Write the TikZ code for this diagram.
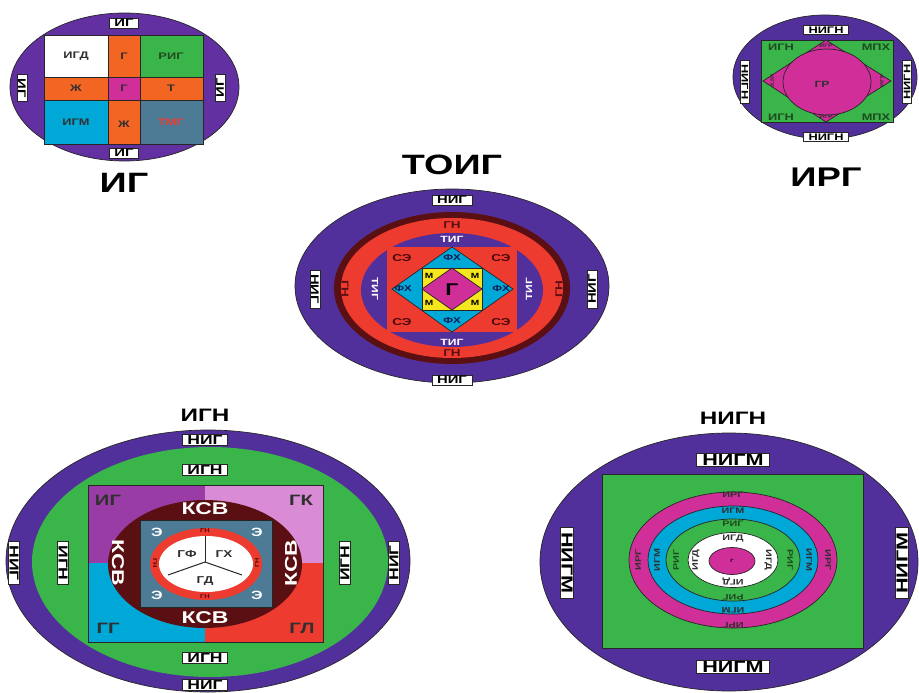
\documentclass[tikz,border=0pt]{standalone}
\usepackage{fontspec}
\setmainfont{Liberation Sans}[FakeStretch=1.35]
\usetikzlibrary{shapes.geometric}
\definecolor{pur}{HTML}{52309C}
\definecolor{purA}{HTML}{6230A0}
\definecolor{mag}{HTML}{D02E98}
\definecolor{grn}{HTML}{3AB54A}
\definecolor{cya}{HTML}{00A8D8}
\definecolor{org}{HTML}{F26522}
\definecolor{redA}{HTML}{EE3B2F}
\definecolor{stl}{HTML}{4D7A95}
\definecolor{mar}{HTML}{5A0F12}
\definecolor{pnk}{HTML}{D98CD5}
\definecolor{vio}{HTML}{9A3CA5}
\definecolor{yel}{HTML}{F5E61E}
\definecolor{edge}{HTML}{262626}
\definecolor{dk}{HTML}{303030}
\definecolor{dkg}{HTML}{1F4A22}
\definecolor{dkr}{HTML}{4A0A0A}
\definecolor{dkb}{HTML}{151A50}
\tikzset{
  ol/.style={draw=edge, line width=0.7pt},
  tx/.style={inner sep=0pt, font=\bfseries\fontsize{#1}{#1}\selectfont},
  lb/.style={fill=white, draw=edge, line width=0.5pt, inner xsep=3pt, inner ysep=1.2pt, text=black, font=\bfseries\fontsize{#1}{#1}\selectfont},
}
\begin{document}
\begin{tikzpicture}[x=1pt,y=-1pt]
\useasboundingbox (0,0) rectangle (919,693);
\fill[white] (0,0) rectangle (919,693);

% ================= top-left: IG =================
\path[ol, fill=purA] (124.5,87) ellipse [x radius=114.5pt, y radius=74pt];
\path[ol, fill=white] (44,35) rectangle (108,77);
\path[ol, fill=org] (108,35) rectangle (140,77);
\path[ol, fill=grn] (140,35) rectangle (203,77);
\path[ol, fill=org] (44,77) rectangle (108,100);
\path[ol, fill=mag] (108,77) rectangle (140,100);
\path[ol, fill=org] (140,77) rectangle (203,100);
\path[ol, fill=cya] (44,100) rectangle (108,144);
\path[ol, fill=org] (108,100) rectangle (140,144);
\path[ol, fill=stl] (140,100) rectangle (203,144);
\node[tx=9.5, text=dk] (a1) at (76,56) {ИГД};
\node[tx=9.5, text=dk] (a2) at (124,56) {Г};
\node[tx=9.5, text=dkg] (a3) at (171,56) {РИГ};
\node[tx=9.5, text=dk] (a4) at (76,88) {Ж};
\node[tx=9.5, text=dk] (a5) at (124,88) {Г};
\node[tx=9.5, text=dk] (a6) at (171,88) {Т};
\node[tx=9.5, text=dk] (a7) at (76,122) {ИГМ};
\node[tx=9.5, text=dk] (a8) at (124,124) {Ж};
\node[tx=9.5, text=redA] (a9) at (171,122) {ТМГ};
\node[lb=11, inner xsep=5pt] (aT) at (124,23) {ИГ};
\node[lb=11, inner xsep=5pt] (aB) at (124,153) {ИГ};
\node[lb=11, inner xsep=4pt, rotate=-90] (aL) at (22,88) {ИГ};
\node[lb=11, inner xsep=4pt, rotate=90] (aR) at (220,88) {ИГ};
\node[tx=28] (aTitle) at (124,183) {ИГ};

% ================= top-right: IRG =================
\path[ol, fill=pur] (825,77) ellipse [x radius=92pt, y radius=62pt];
\path[ol, fill=grn] (761,40) rectangle (893,122);
\path[ol, fill=mag] (826,40) -- (891,81) -- (826,122) -- (763,81) -- cycle;
\path[ol, fill=mag] (827,82) ellipse [x radius=44pt, y radius=33pt];
\node[tx=5, text=dk] (b1) at (826,46) {ИГР};
\node[tx=5, text=dk] (b2) at (826,117) {ИГР};
\node[tx=5, text=dk, rotate=-90] (b3) at (772,81) {ИГР};
\node[tx=5, text=dk, rotate=90] (b4) at (882,81) {ИГР};
\node[tx=9.5, text=dkg] (b5) at (781,47) {ИГН};
\node[tx=9.5, text=dkg] (b6) at (876,47) {МПХ};
\node[tx=9.5, text=dkg] (b7) at (781,117) {ИГН};
\node[tx=9.5, text=dkg] (b8) at (876,117) {МПХ};
\node[tx=9, text=dk] (b9) at (822,84) {ГР};
\node[lb=9.5, inner xsep=5pt] (bT) at (826,30) {НИГН};
\node[lb=9.5, inner xsep=5pt] (bB) at (826,137) {НИГН};
\node[lb=9.5, inner xsep=4pt, rotate=-90] (bL) at (745,82) {НИГН};
\node[lb=9.5, inner xsep=4pt, rotate=90] (bR) at (907,82) {НИГН};
\node[tx=27] (bTitle) at (826,177) {ИРГ};

% ================= center: TOIG =================
\node[tx=28] (cTitle) at (452,165) {ТОИГ};
\path[ol, fill=pur] (452,286) ellipse [x radius=157pt, y radius=97pt];
\path[fill=mar] (452,288) ellipse [x radius=118pt, y radius=76pt];
\path[fill=redA] (452,288) ellipse [x radius=111pt, y radius=70pt];
\path[fill=pur] (452,290) ellipse [x radius=91pt, y radius=57pt];
\path[fill=redA] (387,247) rectangle (517,332);
\path[ol, fill=cya] (452,247) -- (513,289) -- (452,332) -- (392,289) -- cycle;
\path[ol, fill=yel] (422,268) rectangle (482,310);
\path[ol, fill=mag] (452,268) -- (482,289) -- (452,310) -- (422,289) -- cycle;
\node[tx=17] (c0) at (452,290) {Г};
\node[tx=7.5] (cm1) at (429,276) {М};
\node[tx=7.5] (cm2) at (475,276) {М};
\node[tx=7.5] (cm3) at (429,303) {М};
\node[tx=7.5] (cm4) at (475,303) {М};
\node[tx=8.5, text=dkb] (cf1) at (452,258) {ФХ};
\node[tx=8.5, text=dkb] (cf2) at (452,321) {ФХ};
\node[tx=8.5, text=dkb] (cf3) at (403,289) {ФХ};
\node[tx=8.5, text=dkb] (cf4) at (501,289) {ФХ};
\node[tx=10, text=dkr] (cs1) at (402,258) {СЭ};
\node[tx=10, text=dkr] (cs2) at (501,258) {СЭ};
\node[tx=10, text=dkr] (cs3) at (402,322) {СЭ};
\node[tx=10, text=dkr] (cs4) at (501,322) {СЭ};
\node[tx=9, text=white] (ct1) at (452,239) {ТИГ};
\node[tx=9, text=white] (ct2) at (452,342) {ТИГ};
\node[tx=9, text=white, rotate=-90] (ct3) at (375,289) {ТИГ};
\node[tx=9, text=white, rotate=90] (ct4) at (529,289) {ТИГ};
\node[tx=10, text=mar] (cg1) at (452,225) {ГН};
\node[tx=10, text=mar] (cg2) at (452,353) {ГН};
\node[tx=10, text=mar, rotate=-90] (cg3) at (345,289) {ГН};
\node[tx=10, text=mar, rotate=90] (cg4) at (559,289) {ГН};
\node[lb=11, inner xsep=5pt] (cT) at (452,200) {НИГ};
\node[lb=11, inner xsep=5pt] (cB) at (452,380) {НИГ};
\node[lb=11, inner xsep=4pt, rotate=-90] (cL) at (315,289) {НИГ};
\node[lb=11, inner xsep=4pt, rotate=90] (cR) at (592,289) {НИГ};

% ================= bottom-left: IGN =================
\node[tx=18] (dTitle) at (205,415) {ИГН};
\path[ol, fill=pur] (208,561) ellipse [x radius=202pt, y radius=131pt];
\path[fill=grn] (210,562) ellipse [x radius=178pt, y radius=115pt];
\path[fill=vio] (88,485) rectangle (205,563);
\path[fill=pnk] (205,485) rectangle (323,563);
\path[fill=cya] (88,563) rectangle (205,642);
\path[fill=redA] (205,563) rectangle (323,642);
\path[draw=edge, line width=0.4pt] (88,485) rectangle (323,642);
\path[fill=mar] (205,564) ellipse [x radius=97pt, y radius=64pt];
\path[draw=edge, line width=0.4pt, fill=stl] (140,520) rectangle (272,607);
\path[fill=redA] (206,564) ellipse [x radius=56pt, y radius=36pt];
\path[fill=white] (206,564) ellipse [x radius=47pt, y radius=28pt];
\coordinate (dc) at (205,562);
\coordinate (dl1) at (205,536);
\coordinate (dl2) at (168,575);
\coordinate (dl3) at (242,575);
\draw[edge, line width=1pt] (dc) -- (dl1);
\draw[edge, line width=1pt] (dc) -- (dl2);
\draw[edge, line width=1pt] (dc) -- (dl3);
\node[tx=10, text=dk] (d1) at (187,554) {ГФ};
\node[tx=10, text=dk] (d2) at (224,554) {ГХ};
\node[tx=10, text=dk] (d3) at (205,581) {ГД};
\node[tx=5.5, text=dkr] (dg1) at (205,531) {ГН};
\node[tx=5.5, text=dkr] (dg2) at (205,597) {ГН};
\node[tx=5.5, text=dkr, rotate=-90] (dg3) at (155,563) {ГН};
\node[tx=5.5, text=dkr, rotate=90] (dg4) at (257,563) {ГН};
\node[tx=12, text=white] (de1) at (157,532) {Э};
\node[tx=12, text=white] (de2) at (257,532) {Э};
\node[tx=12, text=white] (de3) at (157,595) {Э};
\node[tx=12, text=white] (de4) at (257,595) {Э};
\node[tx=17, text=white] (dk1) at (205,509) {КСВ};
\node[tx=17, text=white] (dk2) at (205,618) {КСВ};
\node[tx=17, text=white, rotate=-90] (dk3) at (118,563) {КСВ};
\node[tx=17, text=white, rotate=90] (dk4) at (291,563) {КСВ};
\node[tx=15, text=dk] (dq1) at (108,500) {ИГ};
\node[tx=15, text=dk] (dq2) at (301,500) {ГК};
\node[tx=15, text=dk] (dq3) at (108,628) {ГГ};
\node[tx=15, text=dk] (dq4) at (302,628) {ГЛ};
\node[lb=13, inner xsep=5pt] (dn1) at (205,470) {ИГН};
\node[lb=13, inner xsep=5pt] (dn2) at (205,658) {ИГН};
\node[lb=13, inner xsep=4pt, rotate=-90] (dn3) at (63,563) {ИГН};
\node[lb=13, inner xsep=4pt, rotate=90] (dn4) at (345,563) {ИГН};
\node[lb=13, inner xsep=5pt] (dT) at (205,440) {НИГ};
\node[lb=13, inner xsep=5pt] (dB) at (205,685) {НИГ};
\node[lb=13, inner xsep=4pt, rotate=-90] (dL) at (14,563) {НИГ};
\node[lb=13, inner xsep=4pt, rotate=90] (dR) at (394,563) {НИГ};

% ================= bottom-right: NIGN =================
\node[tx=18] (eTitle) at (733,418) {НИГН};
\path[ol, fill=pur] (729,562) ellipse [x radius=189pt, y radius=129pt];
\path[ol, fill=grn] (602,474) rectangle (863,648);
\path[ol, fill=mag] (733,560) ellipse [x radius=104pt, y radius=68pt];
\path[ol, fill=cya] (733,560) ellipse [x radius=85pt, y radius=54pt];
\path[ol, fill=grn] (733,560) ellipse [x radius=67pt, y radius=41pt];
\path[ol, fill=white] (733,560) ellipse [x radius=45pt, y radius=27.5pt];
\path[ol, fill=mag] (732,561) ellipse [x radius=23pt, y radius=13.5pt];
\node[tx=4.5] (e0) at (732,561) {Г};
\node[tx=8, text=dk] (er1) at (733,495) {ИРГ};
\node[tx=8, text=dk, rotate=180] (er2) at (733,625) {ИРГ};
\node[tx=8, text=dk, rotate=90] (er3) at (638,560) {ИРГ};
\node[tx=8, text=dk, rotate=-90] (er4) at (828,560) {ИРГ};
\node[tx=8, text=dk] (em1) at (733,511) {ИГМ};
\node[tx=8, text=dk, rotate=180] (em2) at (733,610) {ИГМ};
\node[tx=8, text=dk, rotate=90] (em3) at (657,560) {ИГМ};
\node[tx=8, text=dk, rotate=-90] (em4) at (809,560) {ИГМ};
\node[tx=8, text=dkg] (eg1) at (733,524) {РИГ};
\node[tx=8, text=dkg, rotate=180] (eg2) at (733,597) {РИГ};
\node[tx=8, text=dkg, rotate=90] (eg3) at (676,560) {РИГ};
\node[tx=8, text=dkg, rotate=-90] (eg4) at (790,560) {РИГ};
\node[tx=8, text=dk] (ed1) at (733,539) {ИГД};
\node[tx=8, text=dk, rotate=180] (ed2) at (733,581) {ИГД};
\node[tx=8, text=dk, rotate=90] (ed3) at (696,560) {ИГД};
\node[tx=8, text=dk, rotate=-90] (ed4) at (768,560) {ИГД};
\node[lb=16, inner xsep=6pt] (eT) at (733,460) {НИГМ};
\node[lb=16, inner xsep=6pt] (eB) at (733,667) {НИГМ};
\node[lb=16, inner xsep=5pt, rotate=-90] (eL) at (567,563) {НИГМ};
\node[lb=16, inner xsep=5pt, rotate=90] (eR) at (902,563) {НИГМ};
\end{tikzpicture}
\end{document}
